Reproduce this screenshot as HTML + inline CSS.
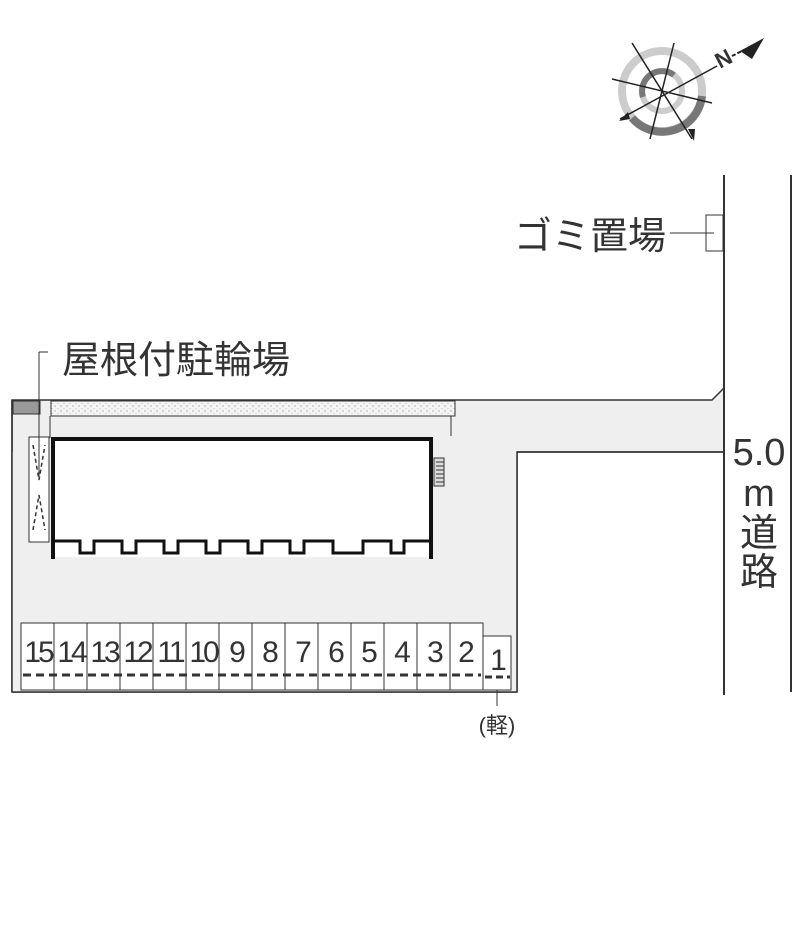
<!DOCTYPE html>
<html><head><meta charset="utf-8"><style>body{margin:0;background:#fff}svg{display:block}text{font-family:"Liberation Sans","Noto Sans CJK JP",sans-serif;fill:#333}</style></head><body>
<svg width="800" height="940" viewBox="0 0 800 940" xmlns="http://www.w3.org/2000/svg">
<defs><pattern id="dots" width="6" height="5" patternUnits="userSpaceOnUse"><rect width="6" height="5" fill="#f4f4f4"/><circle cx="1" cy="1" r="0.6" fill="#888"/><circle cx="4" cy="3.5" r="0.5" fill="#aaa"/></pattern></defs>
<path d="M12 400 L712 400 L724 388 L724 452 L517 452 L517 692 L12 692 Z" fill="#efefef" stroke="#333" stroke-width="1.5"/>
<rect x="12" y="452" width="505" height="240" fill="#efefef"/>
<line x1="517" y1="452" x2="724" y2="452" stroke="#333" stroke-width="1.5"/>
<line x1="517" y1="452" x2="517" y2="692" stroke="#333" stroke-width="1.5"/>
<line x1="12" y1="400" x2="12" y2="692" stroke="#333" stroke-width="1.5"/>
<line x1="12" y1="692" x2="517" y2="692" stroke="#333" stroke-width="1.5"/>
<line x1="724" y1="175" x2="724" y2="695" stroke="#333" stroke-width="2"/>
<line x1="791" y1="175" x2="791" y2="692" stroke="#333" stroke-width="2"/>
<rect x="51" y="401" width="404" height="15" fill="url(#dots)" stroke="#333" stroke-width="1"/>
<rect x="13" y="401" width="27" height="13" fill="#999" stroke="#333"/>
<line x1="50" y1="416" x2="50" y2="438" stroke="#333"/>
<line x1="451" y1="416" x2="451" y2="436" stroke="#333"/>
<rect x="52" y="437" width="381" height="120" fill="#fff"/>
<path d="M53 559 L53 439 L431 439 L431 559" fill="none" stroke="#111" stroke-width="4"/>
<path d="M55 541 H80 V553 H94 V541 H122 V553 H136 V541 H164 V553 H178 V541 H206 V553 H220 V541 H248 V553 H262 V541 H290 V553 H304 V541 H333 V553 H363 V541 H391 V553 H404 V541 H430" fill="none" stroke="#111" stroke-width="3"/>
<rect x="434" y="458" width="10" height="28" fill="#ddd" stroke="#333"/>
<path d="M436 462h8M436 466h8M436 470h8M436 474h8M436 478h8M436 482h8" stroke="#333"/>
<rect x="29" y="437" width="20" height="105" fill="#fff" stroke="#333"/>
<path d="M33 445 L39 480 L45 445 M33 530 L39 495 L45 530" fill="none" stroke="#333" stroke-width="1.5" stroke-dasharray="4 3"/>
<path d="M39 352 H48 M39 352 V480" stroke="#333" fill="none"/>
<text x="62" y="373" font-size="38">屋根付駐輪場</text>
<g stroke="#333" fill="#fff">
<rect x="21" y="623" width="462" height="67"/>
<rect x="483" y="636" width="28" height="54"/>
</g>
<g stroke="#333">
<line x1="54" y1="623" x2="54" y2="690"/><line x1="87" y1="623" x2="87" y2="690"/><line x1="120" y1="623" x2="120" y2="690"/><line x1="153" y1="623" x2="153" y2="690"/><line x1="186" y1="623" x2="186" y2="690"/><line x1="219" y1="623" x2="219" y2="690"/><line x1="252" y1="623" x2="252" y2="690"/><line x1="285" y1="623" x2="285" y2="690"/><line x1="318" y1="623" x2="318" y2="690"/><line x1="351" y1="623" x2="351" y2="690"/><line x1="384" y1="623" x2="384" y2="690"/><line x1="417" y1="623" x2="417" y2="690"/><line x1="450" y1="623" x2="450" y2="690"/>
<line x1="23" y1="675" x2="481" y2="675" stroke-width="3" stroke-dasharray="8 5"/>
<line x1="485" y1="677" x2="510" y2="677" stroke-width="3" stroke-dasharray="7 4"/>
<line x1="497" y1="690" x2="497" y2="706"/>
</g>
<g font-size="30" text-anchor="middle" letter-spacing="-3">
<text x="38" y="662">15</text><text x="71" y="662">14</text><text x="104" y="662">13</text><text x="137" y="662">12</text><text x="170" y="662">11</text><text x="203" y="662">10</text><text x="236" y="662">9</text><text x="269" y="662">8</text><text x="302" y="662">7</text><text x="335" y="662">6</text><text x="368" y="662">5</text><text x="401" y="662">4</text><text x="434" y="662">3</text><text x="465" y="662">2</text><text x="497" y="670">1</text>
</g>
<text x="497" y="733" font-size="22" text-anchor="middle">(軽)</text>
<rect x="706" y="215" width="17" height="36" fill="#fff" stroke="#333"/>
<line x1="670" y1="233" x2="714" y2="233" stroke="#333"/>
<text x="514" y="249" font-size="38">ゴミ置場</text>
<g font-size="38" text-anchor="middle"><text x="759" y="465">5.0</text><text x="759" y="506">m</text><text x="759" y="546">道</text><text x="759" y="585">路</text></g>
<g transform="translate(662,91)">
<circle r="40" fill="none" stroke="#ccc" stroke-width="8"/>
<path d="M40 5 A40 40 0 0 1 -30 27" fill="none" stroke="#777" stroke-width="8"/>
<circle r="20" fill="none" stroke="#ccc" stroke-width="6"/>
<path d="M-19 6 A20 20 0 0 1 12 -16" fill="none" stroke="#777" stroke-width="6"/>
<g stroke="#222" stroke-width="1.5">
<line x1="-30" y1="-48" x2="30" y2="48"/><line x1="12" y1="-48" x2="-12" y2="48"/><line x1="-50" y1="-12" x2="50" y2="12"/><line x1="-42" y1="28" x2="55" y2="-25"/>
</g>
<path d="M-43 30 L-34 21 L-32 28Z M32 50 L26 38 L33 38Z" fill="#222"/>
<text x="58" y="-22" font-size="22" font-weight="bold" fill="#222" transform="rotate(-28 58 -22)">N</text>
<path d="M78 -40 L102 -53 L90 -32Z" fill="#222"/>
<line x1="70" y1="-35" x2="92" y2="-46" stroke="#222" stroke-width="2" stroke-dasharray="4 2"/>
</g>
</svg>
</body></html>
